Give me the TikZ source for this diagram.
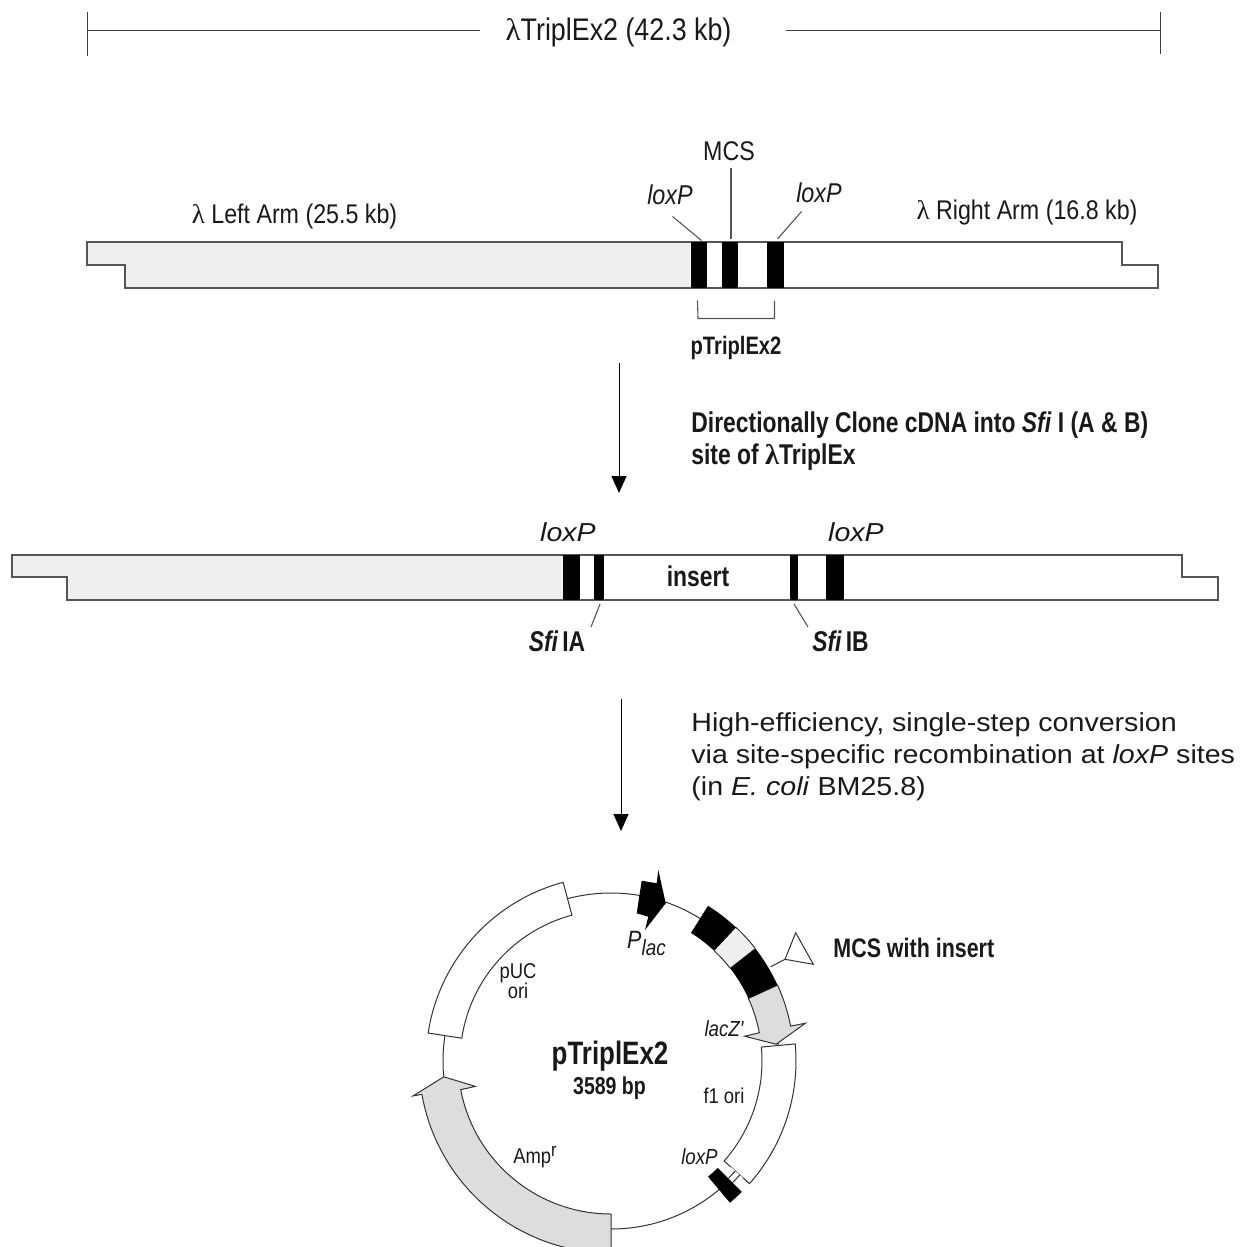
\documentclass[tikz,border=0pt]{standalone}
\usepackage{fontspec}
\setmainfont{Liberation Sans}
\newfontfamily\cond[FakeStretch=0.86]{Liberation Sans}
\newfontfamily\bcond[FakeStretch=0.8]{Liberation Sans}
\newfontfamily\wide[FakeStretch=1.1]{Liberation Sans}
\newfontfamily\lamfont{Liberation Serif}
\newcommand{\lam}{{\lamfont λ}}
\usetikzlibrary{arrows.meta}
\definecolor{strand}{HTML}{555555}
\definecolor{armgray}{HTML}{EEF0EF}
\definecolor{geneg}{HTML}{DCDDDE}
\newcommand{\band}[4]{(#1:#4) arc[start angle=#1,end angle=#2,radius=#4*0.5pt] -- (#2:#3) arc[start angle=#2,end angle=#1,radius=#3*0.5pt] -- cycle}
\tikzset{
  x=0.5pt,y=-0.5pt,
  strip/.style={draw=strand,line width=0.65pt,line join=miter},
  bar/.style={fill=black,draw=none},
  leader/.style={draw=strand,line width=0.55pt},
  dim/.style={draw=black!75,line width=0.45pt},
  flow/.style={draw=black,line width=0.5pt,-{Triangle[length=8.5pt,width=7.5pt]}},
  lbl/.style={inner sep=0pt,text=black!90},
  t15/.style={lbl,font=\cond\fontsize{15.6}{18}\selectfont},
  t13/.style={lbl,font=\cond\fontsize{13.5}{16}\selectfont},
  it13/.style={lbl,font=\cond\itshape\fontsize{13.6}{16}\selectfont},
  it13w/.style={lbl,font=\wide\itshape\fontsize{13}{16}\selectfont},
  b14/.style={lbl,font=\bcond\bfseries\fontsize{14.3}{16}\selectfont},
  b13/.style={lbl,font=\bcond\bfseries\fontsize{13.4}{16}\selectfont},
  b12/.style={lbl,font=\bcond\bfseries\fontsize{12.6}{15}\selectfont},
  s10/.style={lbl,font=\cond\fontsize{10.7}{10}\selectfont},
  si10/.style={lbl,font=\cond\itshape\fontsize{10.9}{12}\selectfont},
  wtext/.style={lbl,align=left,anchor=north west,font=\wide\fontsize{13}{16}\selectfont},
  feature/.style={draw=black!80,line width=0.5pt,line join=miter},
}
\begin{document}
\begin{tikzpicture}
\useasboundingbox (0,0) rectangle (1241,1247);
% total length
\node[t15,anchor=center] (total) at (618.5,32) {\lam TriplEx2 (42.3 kb)};
\coordinate (dl) at (87,30); \coordinate (dr) at (1160,30);
\coordinate (dlt) at (87,12); \coordinate (dlb) at (87,56);
\coordinate (drt) at (1160,12); \coordinate (drb) at (1160,54);
\coordinate (tl) at (480,30); \coordinate (tr) at (786,30);
\draw[dim] (dl) -- (tl); \draw[dim] (tr) -- (dr);
\draw[dim] (dlt) -- (dlb); \draw[dim] (drt) -- (drb);
% strip 1
\fill[armgray] (87,242) -- (690,242) -- (690,288) -- (125,288) -- (125,265) -- (87,265) -- cycle;
\draw[strip] (87,242) -- (1122,242) -- (1122,265) -- (1158,265) -- (1158,288) -- (125,288) -- (125,265) -- (87,265) -- cycle;
\fill[bar] (690.5,242) rectangle (706.5,288);
\fill[bar] (721.5,242) rectangle (738,288);
\fill[bar] (767,242) rectangle (783.5,288);
\node[t13,anchor=center] (larm) at (294.5,217) {\lam{} Left Arm (25.5 kb)};
\node[t13,anchor=center] (rarm) at (1027,213) {\lam{} Right Arm (16.8 kb)};
\node[t13,anchor=center] (mcs) at (729,151) {MCS};
\node[it13,anchor=center] (lox1) at (670,195) {loxP};
\node[it13,anchor=center] (lox2) at (819,193) {loxP};
\node[b12,anchor=center] (ptrip) at (736,348) {pTriplEx2};
\coordinate (a1) at (672.5,216.5); \coordinate (a2) at (701.5,240.5);
\coordinate (a3) at (731,167.5); \coordinate (a4) at (731,239);
\coordinate (a5) at (801.5,211.5); \coordinate (a6) at (777.5,239);
\draw[leader] (a1) -- (a2); \draw[leader] (a3) -- (a4); \draw[leader] (a5) -- (a6);
\coordinate (b1) at (697.5,300.5); \coordinate (b2) at (698,318.5);
\coordinate (b3) at (774.5,318.5); \coordinate (b4) at (774.5,300.5);
\draw[leader] (b1) -- (b2) -- (b3) -- (b4);
% arrow 1
\coordinate (f1) at (619,363); \coordinate (f2) at (619,493);
\draw[flow] (f1) -- (f2);
\node[b14,anchor=north west,align=left] (dir) at (691,411) {Directionally Clone cDNA into \textit{Sfi} I (A \& B)\\site of \lam TriplEx};
% strip 2
\fill[armgray] (12,555) -- (563,555) -- (563,600) -- (67,600) -- (67,577) -- (12,577) -- cycle;
\draw[strip] (12,555) -- (1182,555) -- (1182,577) -- (1218,577) -- (1218,600) -- (67,600) -- (67,577) -- (12,577) -- cycle;
\fill[bar] (563,555) rectangle (580,600);
\fill[bar] (594,555) rectangle (603.5,600);
\fill[bar] (790,555) rectangle (798,600);
\fill[bar] (825.5,555) rectangle (843.7,600);
\node[it13w,anchor=center] (lox3) at (568,532) {loxP};
\node[it13w,anchor=center] (lox4) at (856,532) {loxP};
\node[b14,anchor=center] (ins) at (698,576) {insert};
\node[b14,anchor=center] (sa) at (557,641) {\textit{Sfi}\kern2pt IA};
\node[b14,anchor=center] (sb) at (840.5,641) {\textit{Sfi}\kern2pt IB};
\coordinate (c1) at (600,604); \coordinate (c2) at (591,627);
\coordinate (c3) at (794,604); \coordinate (c4) at (808,627);
\draw[leader] (c1) -- (c2); \draw[leader] (c3) -- (c4);
% arrow 2
\coordinate (f3) at (621,699); \coordinate (f4) at (621,831);
\draw[flow] (f3) -- (f4);
\node[wtext] (conv) at (691,712) {High-efficiency, single-step conversion\\via site-specific recombination at \textit{loxP} sites\\(in \textit{E. coli} BM25.8)};
% plasmid
\begin{scope}[shift={(611,1061)},x=0.5pt,y=0.5pt]
  \draw[feature] (0,0) circle[radius=84pt];
  \draw[feature,fill=white] \band{105}{171.3}{151}{185};
  \draw[feature,fill=geneg] (185.4:168) -- (190.6:138) -- (190.8:153) arc[start angle=190.8,end angle=270,radius=76.5pt] -- (270:192) arc[start angle=270,end angle=190,radius=96pt] -- (190:201) -- cycle;
  \fill[armgray] \band{46.9}{38}{151}{183};
  \draw[feature,fill=geneg] (24.5:183) arc[start angle=24.5,end angle=11,radius=91.5pt] -- (11:198) -- (5.8:166) -- (10.5:136) -- (10.8:151) arc[start angle=10.8,end angle=24.5,radius=75.5pt] -- cycle;
  \draw[feature] (46.9:183) arc[start angle=46.9,end angle=38,radius=91.5pt];
  \draw[feature] (46.9:151) arc[start angle=46.9,end angle=38,radius=75.5pt];
  \fill[black] \band{58}{46.9}{151}{183};
  \fill[black] \band{38}{24.5}{151}{183};
  \draw[feature,fill=white] \band{5.3}{-41.5}{151}{185};
  \fill[white] \band{-41.5}{-45}{160}{176};
  \draw[feature] (-41.5:166) -- (-45:166);
  \draw[feature] (-41.5:172) -- (-45:172);
  \fill[black] \band{-45}{-50}{151}{185};
\end{scope}
\fill[black] (641.7,880.7) -- (656.7,883.3) -- (658.3,870) -- (665.7,903.3) -- (645,930) -- (648.3,916.7) -- (636.7,913.3) -- cycle;
\coordinate (m1) at (770.7,966.7); \coordinate (m2) at (785,959.3);
\draw[feature] (m1) -- (m2);
\draw[feature,fill=white] (795.7,932.7) -- (813.3,964.3) -- (785,959.3) -- cycle;
\node[b13,anchor=west] (mcsi) at (833,948) {MCS with insert};
\node[lbl,anchor=center,font=\bcond\bfseries\fontsize{16.2}{18}\selectfont] (pname) at (610,1056) {pTriplEx2};
\node[lbl,anchor=center,font=\bcond\bfseries\fontsize{12.2}{14}\selectfont] (psize) at (609.5,1088) {3589 bp};
\node[s10,anchor=center,align=center] (puc) at (518,981) {pUC\\ori};
\node[s10,anchor=center] (f1o) at (724,1096) {f1 ori};
\node[s10,anchor=center] (amp) at (535,1157) {Amp\raisebox{3.5pt}{\fontsize{9.5}{10}\selectfont r}};
\node[si10,anchor=center] (loxp) at (699.5,1157) {loxP};
\node[si10,anchor=center] (lacz) at (724,1029) {lacZ'};
\node[lbl,anchor=center,font=\cond\itshape\fontsize{12.5}{12}\selectfont] (plac) at (646.5,943) {P\raisebox{-3.5pt}{\fontsize{11}{12}\selectfont lac}};
\end{tikzpicture}
\end{document}
